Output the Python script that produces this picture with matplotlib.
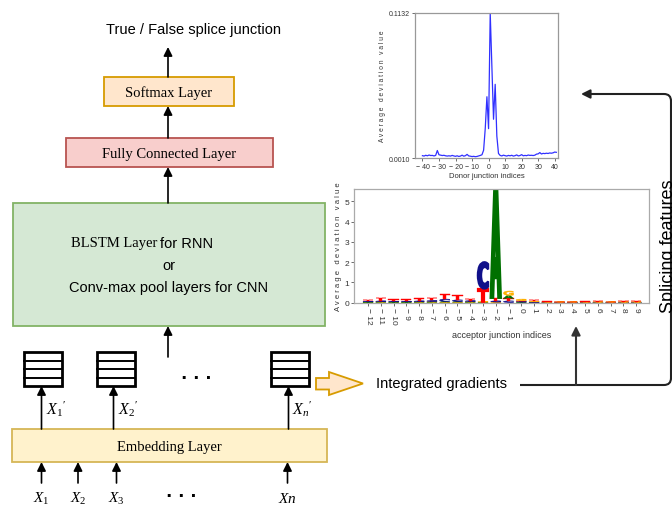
import matplotlib
matplotlib.use("Agg")
import matplotlib.pyplot as plt
import matplotlib.transforms as mtransforms
from matplotlib.patches import Rectangle, Polygon, PathPatch
from matplotlib.path import Path
from matplotlib.textpath import TextPath
from matplotlib.font_manager import FontProperties

plt.rcParams["font.family"] = ["Liberation Sans", "DejaVu Sans"]
plt.rcParams["mathtext.fontset"] = "custom"
plt.rcParams["mathtext.rm"] = "Liberation Serif"
plt.rcParams["mathtext.it"] = "Liberation Serif:italic"

SERIF = "Liberation Serif"
SANS = "Liberation Sans"

# donor junction: average deviation per position (-40 .. 41)
donor_idx = list(range(-40, 42))
donor_val = [
    0.0028, 0.0025, 0.0031, 0.0027, 0.0033, 0.0029, 0.0030, 0.0026, 0.0030,
    0.0068, 0.0035, 0.0032, 0.0029, 0.0031, 0.0027, 0.0025, 0.0027, 0.0025,
    0.0030, 0.0026, 0.0023, 0.0027, 0.0022, 0.0025, 0.0032, 0.0024, 0.0028,
    0.0038, 0.0026, 0.0024, 0.0021, 0.0023, 0.0020, 0.0022, 0.0026, 0.0030,
    0.0035, 0.0070, 0.0240, 0.0484, 0.0237, 0.1132, 0.0720, 0.0310, 0.0580,
    0.0180, 0.0045, 0.0030, 0.0026, 0.0032, 0.0028, 0.0025, 0.0030, 0.0027,
    0.0031, 0.0025, 0.0028, 0.0034, 0.0026, 0.0029, 0.0036, 0.0027, 0.0030,
    0.0028, 0.0033, 0.0030, 0.0031, 0.0029, 0.0032, 0.0040, 0.0042, 0.0052,
    0.0041, 0.0046, 0.0044, 0.0047, 0.0045, 0.0049, 0.0047, 0.0050, 0.0056,
    0.0054,
]
donor_ticks = [-40, -30, -20, -10, 0, 10, 20, 30, 40]

# acceptor junction: letter heights per position (-12 .. 9)
acc_pos = list(range(-12, 10))
acc_A = [0.02, 0.02, 0.02, 0.02, 0.02, 0.02, 0.03, 0.03, 0.02, 0.02, 5.35, 0.15,
         0.02, 0.01, 0.01, 0.01, 0.01, 0.01, 0.01, 0.01, 0.01, 0.01]
acc_C = [0.03, 0.04, 0.03, 0.03, 0.04, 0.06, 0.12, 0.08, 0.05, 1.30, 0.06, 0.08,
         0.03, 0.02, 0.01, 0.01, 0.01, 0.01, 0.01, 0.01, 0.01, 0.01]
acc_G = [0.01, 0.02, 0.01, 0.01, 0.02, 0.02, 0.02, 0.02, 0.02, 0.02, 0.02, 0.22,
         0.08, 0.02, 0.01, 0.01, 0.01, 0.01, 0.01, 0.01, 0.01, 0.01]
acc_T = [0.08, 0.15, 0.09, 0.09, 0.12, 0.14, 0.25, 0.22, 0.10, 0.65, 0.15, 0.12,
         0.04, 0.08, 0.02, 0.01, 0.01, 0.02, 0.05, 0.01, 0.04, 0.04]
letter_colors = {"A": "#007000", "C": "#10108a", "G": "#ffb000", "T": "#ff0000"}

W, H = 672, 510
fig = plt.figure(figsize=(W / 100, H / 100), dpi=100)
ax = fig.add_axes([0, 0, 1, 1])
ax.set_xlim(0, W)
ax.set_ylim(H, 0)
ax.axis("off")


def arrow(x0, y0, x1, y1, color="black", lw=1.2, ms=13):
    ax.annotate("", xy=(x1, y1), xytext=(x0, y0),
                arrowprops=dict(arrowstyle="-|>", color=color, lw=lw,
                                shrinkA=0, shrinkB=0, mutation_scale=ms))


def layer_box(x0, y0, x1, y1, fc, ec, label=None):
    ax.add_patch(Rectangle((x0, y0), x1 - x0, y1 - y0, fc=fc, ec=ec, lw=1.3))
    if label:
        ax.text((x0 + x1) / 2, (y0 + y1) / 2 + 1, label, family=SERIF,
                fontsize=10.5, ha="center", va="center")


# network stack
ax.text(194, 30, "True / False splice junction", fontsize=10.5,
        ha="center", va="center")
arrow(168, 78, 168, 48)
layer_box(104, 78, 234, 107, "#ffe6cc", "#d79b00", "Softmax Layer")
arrow(168, 139, 168, 107)
layer_box(66, 139, 273, 168, "#f8cecc", "#b85450", "Fully Connected Layer")
arrow(168, 204, 168, 168)
layer_box(13, 204, 325, 327, "#d5e8d4", "#82b366")
ax.text(157, 244, "BLSTM Layer", family=SERIF, fontsize=10.5,
        ha="right", va="center")
ax.text(160, 244, "for RNN", fontsize=10.5, ha="left", va="center")
ax.text(169, 266, "or", fontsize=10.5, ha="center", va="center")
ax.text(169, 288, "Conv-max pool layers for CNN", fontsize=10.5,
        ha="center", va="center")
arrow(168, 358, 168, 327)

# embedded vectors
for x0 in [24, 97, 271]:
    ax.add_patch(Rectangle((x0, 353), 38, 34, fc="white", ec="black", lw=2))
    for k in range(1, 4):
        ax.plot([x0, x0 + 38], [353 + k * 8.5] * 2, color="black", lw=1.4)
ax.text(196, 379, "· · ·", family="DejaVu Sans", fontsize=12,
        fontweight="bold", ha="center", va="center")

for xa, lab in zip([41.5, 113.5, 288.5],
                   [r"$X_{1}{}^{\prime}$", r"$X_{2}{}^{\prime}$",
                    r"$X_{n}{}^{\prime}$"]):
    arrow(xa, 430, xa, 387)
    ax.text(xa + 4, 409, lab, fontsize=11.5, ha="left", va="center")

layer_box(12, 430, 327, 463, "#fff2cc", "#d6b656", "Embedding Layer")

for xa, lab in zip([41.5, 78, 116.5, 287.5],
                   [r"$X_1$", r"$X_2$", r"$X_3$", r"$Xn$"]):
    arrow(xa, 484, xa, 463)
    ax.text(xa, 499, lab, fontsize=11, ha="center", va="center")
ax.text(181, 497, "· · ·", family="DejaVu Sans", fontsize=12,
        fontweight="bold", ha="center", va="center")

# integrated gradients hand-off
ax.add_patch(Polygon([(316, 379), (329, 379), (329, 373), (363, 384.5),
                      (329, 396), (329, 390.5), (316, 390.5)],
                     closed=True, fc="#ffe6cc", ec="#d79b00", lw=1.3))
ax.text(376, 384, "Integrated gradients", fontsize=10.5, ha="left", va="center")

conn = Path([(520, 386), (664, 386), (671, 386), (671, 379),
             (671, 102), (671, 95), (664, 95)],
            [Path.MOVETO, Path.LINETO, Path.CURVE3, Path.CURVE3,
             Path.LINETO, Path.CURVE3, Path.CURVE3])
ax.add_patch(PathPatch(conn, fc="none", ec="#222222", lw=1.5))
arrow(664, 95, 581, 95, color="#222222", lw=1.5)
arrow(576, 386, 576, 327, color="#333333", lw=1.5)
ax.text(660, 246, "Splicing features", fontsize=13, rotation=90,
        ha="left", va="center")

# donor junction profile
axd = fig.add_axes([415 / W, 1 - 159 / H, 143 / W, 145 / H])
axd.plot(donor_idx, donor_val, color="#3030ff", lw=0.9)
axd.set_xlim(-44.5, 42)
axd.set_ylim(0.0010, 0.1132)
axd.set_yticks([0.0010, 0.1132])
axd.set_yticklabels(["0.0010", "0.1132"])
axd.set_xticks(donor_ticks)
axd.set_xticklabels([str(t).replace("-", "− ") for t in donor_ticks])
axd.tick_params(labelsize=5, length=2, width=0.5, pad=1.5,
                colors="#333333")
for s in axd.spines.values():
    s.set_color("#999999")
    s.set_linewidth(0.9)
axd.set_xlabel("Donor junction indices", fontsize=5.5, labelpad=1.5,
               color="#333333")
axd.set_ylabel("A v e r a g e   d e v i a t i o n   v a l u e", fontsize=4.8,
               labelpad=2, color="#333333")

# acceptor junction logo, letters stacked smallest first
axl = fig.add_axes([354 / W, 1 - 303.5 / H, 295 / W, 113.5 / H])
fp = FontProperties(family="DejaVu Sans", weight="bold")
for i, pos in enumerate(acc_pos):
    hs = {"A": acc_A[i], "C": acc_C[i], "G": acc_G[i], "T": acc_T[i]}
    base = 0.0
    for ch, h in sorted(hs.items(), key=lambda kv: kv[1]):
        tp = TextPath((0, 0), ch, size=1, prop=fp)
        bb = tp.get_extents()
        wl = 0.8
        tr = (mtransforms.Affine2D().translate(-bb.x0, -bb.y0)
              .scale(wl / bb.width, h / bb.height)
              .translate(pos - wl / 2, base))
        edge = 1.6 if h > 0.5 else 0.3
        axl.add_patch(PathPatch(tr.transform_path(tp), fc=letter_colors[ch],
                                ec=letter_colors[ch], lw=edge,
                                joinstyle="miter"))
        base += h
axl.set_xlim(-13.1, 10.0)
axl.set_ylim(0, 5.61)
axl.set_yticks([0, 1, 2, 3, 4, 5])
axl.set_xticks(acc_pos)
axl.set_xticklabels([str(p).replace("-", "− ") for p in acc_pos],
                    rotation=270)
axl.tick_params(labelsize=6, length=2, width=0.5, pad=1.5, colors="#333333")
for s in axl.spines.values():
    s.set_color("#aaaaaa")
    s.set_linewidth(0.9)
axl.set_xlabel("acceptor junction indices", fontsize=6.5, labelpad=4,
               color="#333333")
axl.set_ylabel("A v e r a g e   d e v i a t i o n   v a l u e", fontsize=5.5,
               labelpad=2, color="#333333")

fig.savefig("out.png", dpi=100)
